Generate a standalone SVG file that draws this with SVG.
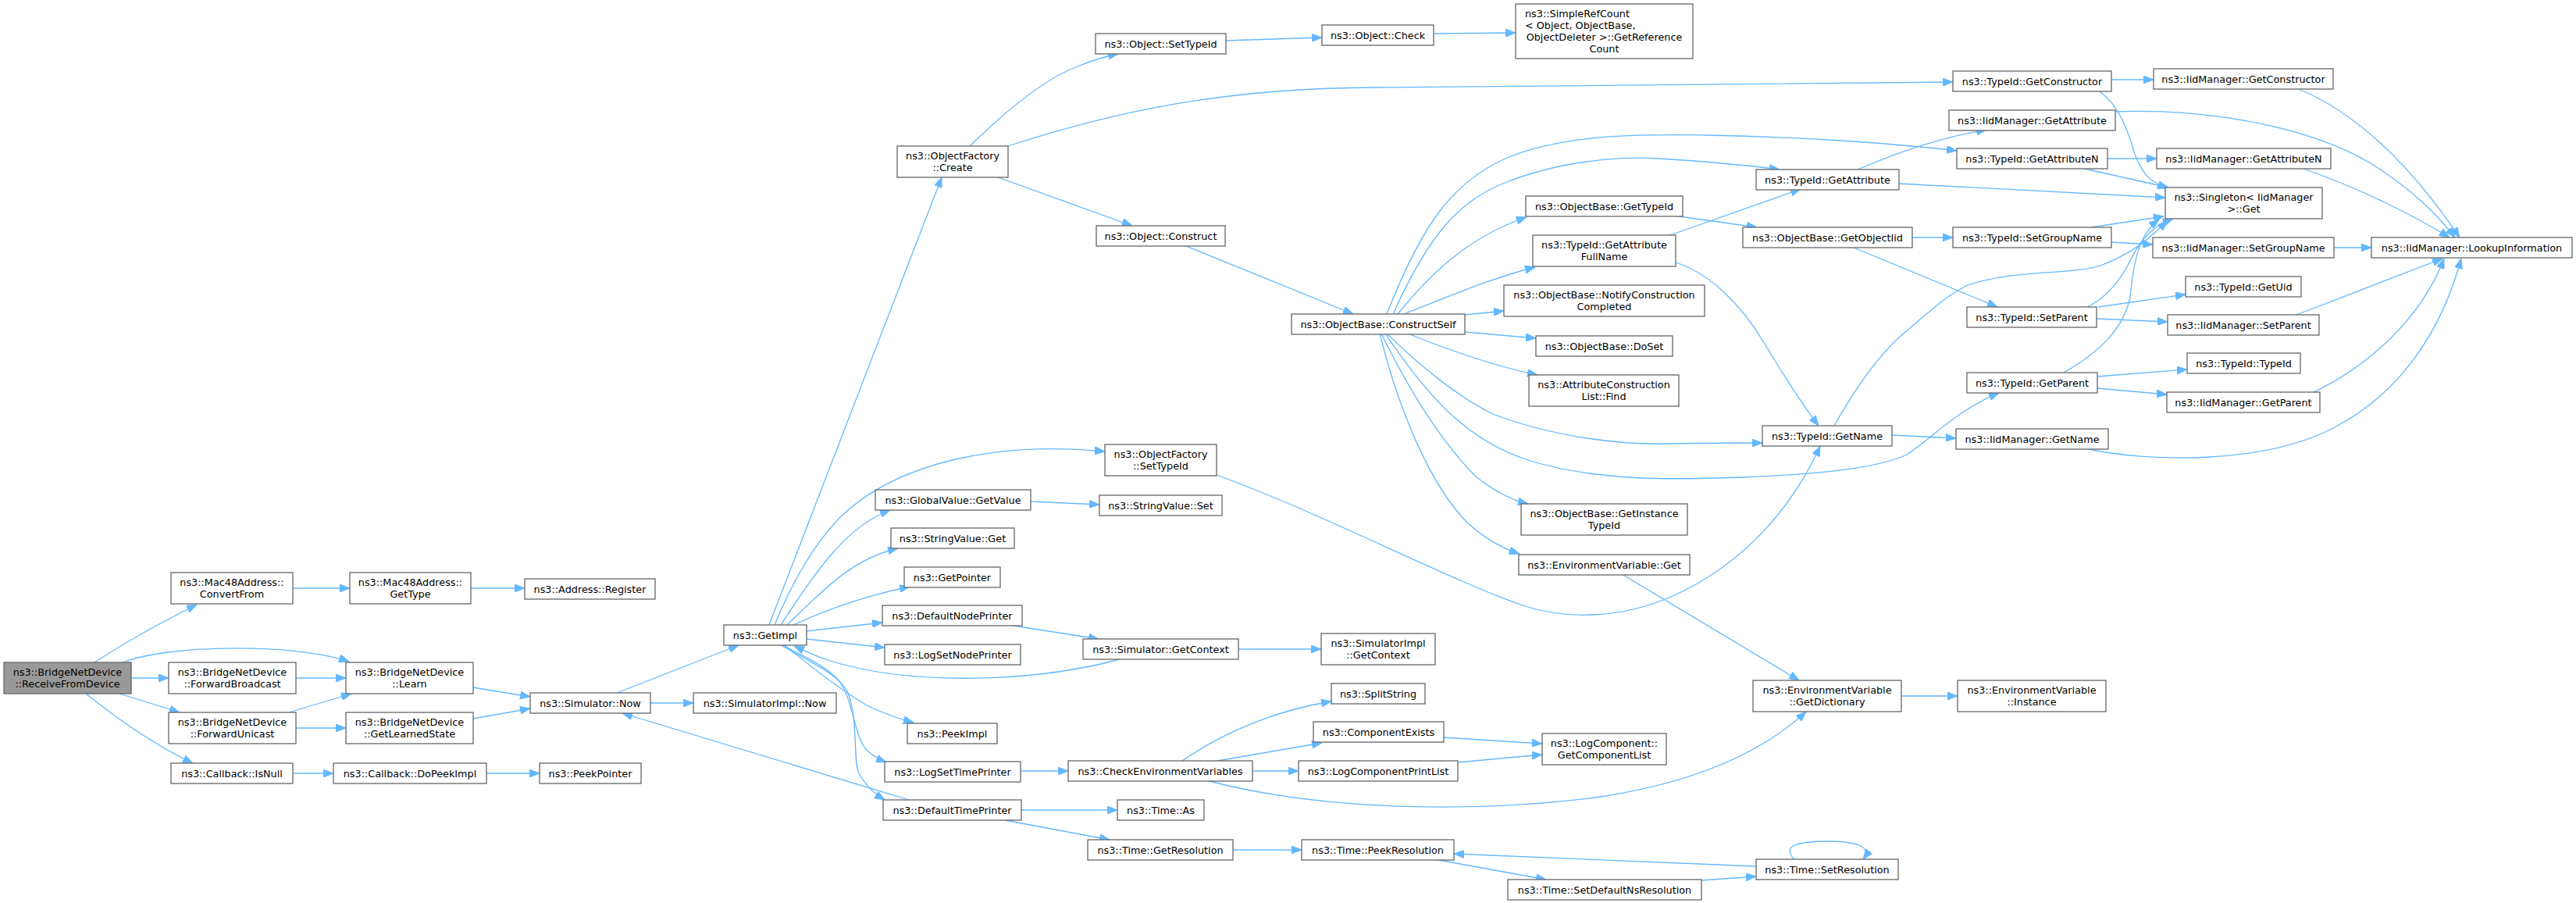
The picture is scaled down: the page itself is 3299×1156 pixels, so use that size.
<svg xmlns="http://www.w3.org/2000/svg" width="3299" height="1156" viewBox="0 0 3299 1156">
<defs>
<marker id="a" markerWidth="13" markerHeight="10" refX="13" refY="5" orient="auto" markerUnits="userSpaceOnUse"><path d="M0,0 L13,5 L0,10 z" fill="#63b8ff" stroke="#63b8ff" stroke-width="1"/></marker>
<style>
.n rect{fill:#fff;stroke:#666;stroke-width:1.3}
.root rect{fill:#999}
text{font-family:'DejaVu Sans','Liberation Sans',sans-serif;font-size:12.8px;text-anchor:middle;fill:#000}
.l{text-anchor:start}
.e path{fill:none;stroke:#63b8ff;stroke-width:1.3;marker-end:url(#a)}
</style>
</defs>
<rect width="3299" height="1156" fill="#fff"/>
<g id="edges" class="e">
<path d="M121,848 C150,829 200,800 252,774"/>
<path d="M157,848 C220,824 380,824 447,847"/>
<path d="M168,868 L216,868"/>
<path d="M153,888 L230,912"/>
<path d="M110,888 C150,920 200,955 247,977"/>
<path d="M375,753 L448,753"/>
<path d="M603,753 L672,753"/>
<path d="M379,868 L443,868"/>
<path d="M370,912 L450,888"/>
<path d="M379,932 L443,932"/>
<path d="M375,990 L427,990"/>
<path d="M623,990 L691,990"/>
<path d="M606,880 L679,892"/>
<path d="M606,920 L679,907"/>
<path d="M833,900 L888,900"/>
<path d="M790,887 L946,826"/>
<path d="M1164,1024 L797,913"/>
<path d="M985,800 L1206,227"/>
<path d="M992,800 C1015,745 1040,700 1075,663 C1150,590 1280,565 1415,578"/>
<path d="M1000,800 C1040,740 1080,675 1140,653"/>
<path d="M1320,642 L1408,646"/>
<path d="M1008,800 C1050,760 1090,715 1150,702"/>
<path d="M1016,800 C1060,780 1110,762 1165,751"/>
<path d="M1033,808 L1130,797"/>
<path d="M1033,818 L1133,829"/>
<path d="M1434,844 C1330,872 1170,880 1060,845 C1045,840 1030,833 1017,827"/>
<path d="M1298,801 L1407,818"/>
<path d="M1586,831 L1692,831"/>
<path d="M1005,826 C1040,855 1080,885 1110,903 C1135,915 1150,920 1170,925"/>
<path d="M1002,826 C1040,845 1070,860 1080,880 C1095,910 1095,945 1110,960 C1118,968 1125,972 1135,976"/>
<path d="M1000,826 C1040,848 1075,865 1085,885 C1100,920 1092,975 1100,990 C1108,1005 1118,1015 1133,1024"/>
<path d="M1307,987 L1368,987"/>
<path d="M1308,1037 L1431,1037"/>
<path d="M1287,1050 L1421,1075"/>
<path d="M1579,1088 L1667,1088"/>
<path d="M1514,974 C1570,935 1640,908 1705,898"/>
<path d="M1559,974 L1693,951"/>
<path d="M1604,987 L1663,987"/>
<path d="M1545,999 C1700,1040 1900,1040 2050,1020 C2180,1000 2260,960 2313,911"/>
<path d="M1849,944 L1975,952"/>
<path d="M1867,976 L1975,966"/>
<path d="M1837,1100 L1980,1126"/>
<path d="M2179,1127 L2249,1122"/>
<path d="M2249,1109 L1862,1093"/>
<path d="M2298,1100 C2280,1082 2305,1077 2340,1077 C2378,1077 2398,1084 2386,1100"/>
<path d="M2077,735 L2304,871"/>
<path d="M2435,891 L2507,891"/>
<path d="M1558,608 C1700,660 1850,740 1950,775 C2010,795 2080,790 2140,764 C2240,720 2300,640 2331,571"/>
<path d="M1242,187 C1290,140 1340,100 1380,85 C1400,77 1415,72 1432,69"/>
<path d="M1291,187 C1420,145 1560,113 1760,112 C2000,110 2300,107 2501,105"/>
<path d="M1278,227 L1450,289"/>
<path d="M1570,52 L1693,48"/>
<path d="M1836,43 L1941,42"/>
<path d="M1519,315 L1733,402"/>
<path d="M1776,402 C1820,290 1860,230 1935,200 C2010,170 2120,172 2184,173 C2300,175 2420,183 2506,193"/>
<path d="M1784,402 C1830,300 1870,255 1930,233 C2000,205 2080,200 2125,203 C2190,207 2240,212 2279,217"/>
<path d="M1790,402 C1840,340 1890,300 1955,278"/>
<path d="M1798,402 C1860,378 1910,356 1966,342"/>
<path d="M1876,403 L1926,398"/>
<path d="M1876,425 L1967,433"/>
<path d="M1803,427 C1860,450 1920,470 1969,480"/>
<path d="M1776,427 C1820,470 1870,510 1912,530 C1990,560 2080,570 2139,568 C2190,567 2230,567 2257,567"/>
<path d="M1774,427 C1830,510 1880,565 1960,590 C2050,617 2150,614 2230,611 C2330,607 2400,600 2440,583 C2470,565 2505,525 2560,503"/>
<path d="M1769,427 C1800,490 1840,560 1890,610 C1915,630 1935,640 1957,645"/>
<path d="M1767,427 C1790,520 1830,620 1880,670 C1905,692 1925,702 1946,709"/>
<path d="M2139,301 L2306,242"/>
<path d="M2146,336 C2190,350 2230,390 2260,440 C2290,490 2310,520 2329,545"/>
<path d="M2143,276 L2250,291"/>
<path d="M2379,217 C2430,195 2490,175 2544,166"/>
<path d="M2432,235 L2773,253"/>
<path d="M2449,304 L2501,304"/>
<path d="M2374,317 L2558,393"/>
<path d="M2349,545 C2380,490 2410,450 2440,425 C2470,400 2490,380 2520,365 C2580,345 2650,352 2690,340 C2730,325 2755,305 2775,282"/>
<path d="M2423,557 L2505,561"/>
<path d="M2670,574 C2750,592 2900,595 2990,547 C3070,505 3125,430 3152,331"/>
<path d="M2704,102 L2758,102"/>
<path d="M2689,117 C2720,140 2728,180 2735,200 C2745,225 2755,233 2776,241"/>
<path d="M2944,114 C3030,150 3100,230 3150,304"/>
<path d="M2709,143 C2850,138 2980,170 3050,218 C3100,252 3125,280 3144,304"/>
<path d="M2699,203 L2762,203"/>
<path d="M2665,215 L2777,240"/>
<path d="M2947,215 C3020,240 3090,275 3137,304"/>
<path d="M2678,291 L2771,277"/>
<path d="M2704,310 L2757,313"/>
<path d="M2989,317 L3037,317"/>
<path d="M2687,393 L2799,377"/>
<path d="M2685,408 L2776,412"/>
<path d="M2673,393 C2700,380 2717,357 2730,330 C2745,300 2762,288 2783,280"/>
<path d="M2941,403 C3000,380 3080,350 3128,331"/>
<path d="M2686,482 L2801,473"/>
<path d="M2686,497 L2775,505"/>
<path d="M2643,477 C2690,450 2720,420 2728,380 C2733,330 2740,300 2765,281"/>
<path d="M2963,502 C3030,470 3100,410 3130,331"/>
</g>
<g id="R" class="n root"><rect x="5" y="848" width="163" height="40"/><text x="86.5" y="865">ns3::BridgeNetDevice</text><text x="86.5" y="880">::ReceiveFromDevice</text></g>
<g id="CF" class="n"><rect x="219" y="733" width="156" height="40"/><text x="297" y="750">ns3::Mac48Address::</text><text x="297" y="765">ConvertFrom</text></g>
<g id="FB" class="n"><rect x="216" y="848" width="163" height="40"/><text x="297.5" y="865">ns3::BridgeNetDevice</text><text x="297.5" y="880">::ForwardBroadcast</text></g>
<g id="FU" class="n"><rect x="216" y="912" width="163" height="40"/><text x="297.5" y="929">ns3::BridgeNetDevice</text><text x="297.5" y="944">::ForwardUnicast</text></g>
<g id="CI" class="n"><rect x="219" y="977" width="156" height="26"/><text x="297" y="994.5">ns3::Callback::IsNull</text></g>
<g id="GT" class="n"><rect x="448" y="733" width="155" height="40"/><text x="525.5" y="750">ns3::Mac48Address::</text><text x="525.5" y="765">GetType</text></g>
<g id="AR" class="n"><rect x="672" y="741" width="167" height="26"/><text x="755.5" y="758.5">ns3::Address::Register</text></g>
<g id="L" class="n"><rect x="443" y="848" width="163" height="40"/><text x="524.5" y="865">ns3::BridgeNetDevice</text><text x="524.5" y="880">::Learn</text></g>
<g id="GLS" class="n"><rect x="443" y="912" width="163" height="40"/><text x="524.5" y="929">ns3::BridgeNetDevice</text><text x="524.5" y="944">::GetLearnedState</text></g>
<g id="DPI" class="n"><rect x="427" y="977" width="196" height="26"/><text x="525" y="994.5">ns3::Callback::DoPeekImpl</text></g>
<g id="PP" class="n"><rect x="691" y="977" width="130" height="26"/><text x="756" y="994.5">ns3::PeekPointer</text></g>
<g id="SN" class="n"><rect x="679" y="887" width="154" height="26"/><text x="756" y="904.5">ns3::Simulator::Now</text></g>
<g id="SIN" class="n"><rect x="888" y="887" width="183" height="26"/><text x="979.5" y="904.5">ns3::SimulatorImpl::Now</text></g>
<g id="GI" class="n"><rect x="927" y="800" width="106" height="26"/><text x="980" y="817.5">ns3::GetImpl</text></g>
<g id="OFC" class="n"><rect x="1149" y="187" width="142" height="40"/><text x="1220" y="204">ns3::ObjectFactory</text><text x="1220" y="219">::Create</text></g>
<g id="OST" class="n"><rect x="1403" y="43" width="167" height="26"/><text x="1486.5" y="60.5">ns3::Object::SetTypeId</text></g>
<g id="OCh" class="n"><rect x="1693" y="32" width="143" height="26"/><text x="1764.5" y="49.5">ns3::Object::Check</text></g>
<g id="SRC" class="n"><rect x="1941" y="5" width="227" height="70"/><text class="l" x="1953" y="22">ns3::SimpleRefCount</text><text class="l" x="1953" y="37">&lt; Object, ObjectBase,</text><text x="2054.5" y="52">ObjectDeleter &gt;::GetReference</text><text x="2054.5" y="67">Count</text></g>
<g id="OC" class="n"><rect x="1404" y="289" width="165" height="26"/><text x="1486.5" y="306.5">ns3::Object::Construct</text></g>
<g id="OFS" class="n"><rect x="1415" y="569" width="143" height="40"/><text x="1486.5" y="586">ns3::ObjectFactory</text><text x="1486.5" y="601">::SetTypeId</text></g>
<g id="GV" class="n"><rect x="1121" y="627" width="199" height="26"/><text x="1220.5" y="644.5">ns3::GlobalValue::GetValue</text></g>
<g id="SVS" class="n"><rect x="1408" y="634" width="157" height="26"/><text x="1486.5" y="651.5">ns3::StringValue::Set</text></g>
<g id="SVG" class="n"><rect x="1141" y="676" width="158" height="26"/><text x="1220" y="693.5">ns3::StringValue::Get</text></g>
<g id="GP" class="n"><rect x="1158" y="726" width="123" height="26"/><text x="1219.5" y="743.5">ns3::GetPointer</text></g>
<g id="DNP" class="n"><rect x="1130" y="775" width="179" height="26"/><text x="1219.5" y="792.5">ns3::DefaultNodePrinter</text></g>
<g id="LSNP" class="n"><rect x="1133" y="825" width="174" height="26"/><text x="1220" y="842.5">ns3::LogSetNodePrinter</text></g>
<g id="SGC" class="n"><rect x="1387" y="818" width="199" height="26"/><text x="1486.5" y="835.5">ns3::Simulator::GetContext</text></g>
<g id="SIGC" class="n"><rect x="1692" y="811" width="146" height="40"/><text x="1765" y="828">ns3::SimulatorImpl</text><text x="1765" y="843">::GetContext</text></g>
<g id="PI" class="n"><rect x="1162" y="926" width="115" height="26"/><text x="1219.5" y="943.5">ns3::PeekImpl</text></g>
<g id="LSTP" class="n"><rect x="1133" y="975" width="174" height="26"/><text x="1220" y="992.5">ns3::LogSetTimePrinter</text></g>
<g id="CEV" class="n"><rect x="1368" y="974" width="236" height="26"/><text x="1486" y="991.5">ns3::CheckEnvironmentVariables</text></g>
<g id="DTP" class="n"><rect x="1131" y="1024" width="177" height="26"/><text x="1219.5" y="1041.5">ns3::DefaultTimePrinter</text></g>
<g id="TA" class="n"><rect x="1431" y="1024" width="111" height="26"/><text x="1486.5" y="1041.5">ns3::Time::As</text></g>
<g id="TGR" class="n"><rect x="1393" y="1075" width="186" height="26"/><text x="1486" y="1092.5">ns3::Time::GetResolution</text></g>
<g id="SS" class="n"><rect x="1705" y="875" width="120" height="26"/><text x="1765" y="892.5">ns3::SplitString</text></g>
<g id="CE" class="n"><rect x="1682" y="924" width="167" height="26"/><text x="1765.5" y="941.5">ns3::ComponentExists</text></g>
<g id="LCPL" class="n"><rect x="1663" y="974" width="204" height="26"/><text x="1765" y="991.5">ns3::LogComponentPrintList</text></g>
<g id="TPR" class="n"><rect x="1667" y="1075" width="195" height="26"/><text x="1764.5" y="1092.5">ns3::Time::PeekResolution</text></g>
<g id="LCGCL" class="n"><rect x="1975" y="939" width="159" height="40"/><text x="2054.5" y="956">ns3::LogComponent::</text><text x="2054.5" y="971">GetComponentList</text></g>
<g id="EVGD" class="n"><rect x="2245" y="871" width="190" height="40"/><text x="2340" y="888">ns3::EnvironmentVariable</text><text x="2340" y="903">::GetDictionary</text></g>
<g id="EVI" class="n"><rect x="2507" y="871" width="190" height="40"/><text x="2602" y="888">ns3::EnvironmentVariable</text><text x="2602" y="903">::Instance</text></g>
<g id="TSDNR" class="n"><rect x="1931" y="1126" width="248" height="26"/><text x="2055" y="1143.5">ns3::Time::SetDefaultNsResolution</text></g>
<g id="TSR" class="n"><rect x="2249" y="1100" width="182" height="26"/><text x="2340" y="1117.5">ns3::Time::SetResolution</text></g>
<g id="CS" class="n"><rect x="1654" y="402" width="222" height="26"/><text x="1765" y="419.5">ns3::ObjectBase::ConstructSelf</text></g>
<g id="NCC" class="n"><rect x="1926" y="365" width="257" height="40"/><text x="2054.5" y="382">ns3::ObjectBase::NotifyConstruction</text><text x="2054.5" y="397">Completed</text></g>
<g id="DS" class="n"><rect x="1967" y="430" width="175" height="26"/><text x="2054.5" y="447.5">ns3::ObjectBase::DoSet</text></g>
<g id="ACLF" class="n"><rect x="1958" y="480" width="192" height="40"/><text x="2054" y="497">ns3::AttributeConstruction</text><text x="2054" y="512">List::Find</text></g>
<g id="GITI" class="n"><rect x="1948" y="645" width="213" height="40"/><text x="2054.5" y="662">ns3::ObjectBase::GetInstance</text><text x="2054.5" y="677">TypeId</text></g>
<g id="EVG" class="n"><rect x="1945" y="710" width="219" height="26"/><text x="2054.5" y="727.5">ns3::EnvironmentVariable::Get</text></g>
<g id="TGN" class="n"><rect x="2257" y="545" width="166" height="26"/><text x="2340" y="562.5">ns3::TypeId::GetName</text></g>
<g id="TGA" class="n"><rect x="2249" y="217" width="183" height="26"/><text x="2340.5" y="234.5">ns3::TypeId::GetAttribute</text></g>
<g id="OBGT" class="n"><rect x="1954" y="251" width="201" height="26"/><text x="2054.5" y="268.5">ns3::ObjectBase::GetTypeId</text></g>
<g id="OBGOI" class="n"><rect x="2232" y="291" width="217" height="26"/><text x="2340.5" y="308.5">ns3::ObjectBase::GetObjectIid</text></g>
<g id="TGAFN" class="n"><rect x="1963" y="301" width="183" height="40"/><text x="2054.5" y="318">ns3::TypeId::GetAttribute</text><text x="2054.5" y="333">FullName</text></g>
<g id="TGC" class="n"><rect x="2501" y="91" width="203" height="26"/><text x="2602.5" y="108.5">ns3::TypeId::GetConstructor</text></g>
<g id="IGC" class="n"><rect x="2758" y="88" width="230" height="26"/><text x="2873" y="105.5">ns3::IidManager::GetConstructor</text></g>
<g id="IGA" class="n"><rect x="2496" y="141" width="213" height="26"/><text x="2602.5" y="158.5">ns3::IidManager::GetAttribute</text></g>
<g id="TGAN" class="n"><rect x="2506" y="190" width="193" height="26"/><text x="2602.5" y="207.5">ns3::TypeId::GetAttributeN</text></g>
<g id="IGAN" class="n"><rect x="2762" y="190" width="223" height="26"/><text x="2873.5" y="207.5">ns3::IidManager::GetAttributeN</text></g>
<g id="SG" class="n"><rect x="2773" y="240" width="201" height="40"/><text x="2873.5" y="257">ns3::Singleton&lt; IidManager</text><text x="2873.5" y="272">&gt;::Get</text></g>
<g id="TSGN" class="n"><rect x="2501" y="291" width="203" height="26"/><text x="2602.5" y="308.5">ns3::TypeId::SetGroupName</text></g>
<g id="ISGN" class="n"><rect x="2757" y="304" width="232" height="26"/><text x="2873" y="321.5">ns3::IidManager::SetGroupName</text></g>
<g id="ILI" class="n"><rect x="3037" y="304" width="257" height="26"/><text x="3165.5" y="321.5">ns3::IidManager::LookupInformation</text></g>
<g id="TGU" class="n"><rect x="2799" y="354" width="148" height="26"/><text x="2873" y="371.5">ns3::TypeId::GetUid</text></g>
<g id="TSP" class="n"><rect x="2519" y="393" width="166" height="26"/><text x="2602" y="410.5">ns3::TypeId::SetParent</text></g>
<g id="ISP" class="n"><rect x="2776" y="403" width="194" height="26"/><text x="2873" y="420.5">ns3::IidManager::SetParent</text></g>
<g id="TTI" class="n"><rect x="2801" y="452" width="145" height="26"/><text x="2873.5" y="469.5">ns3::TypeId::TypeId</text></g>
<g id="TGP" class="n"><rect x="2519" y="477" width="167" height="26"/><text x="2602.5" y="494.5">ns3::TypeId::GetParent</text></g>
<g id="IGP" class="n"><rect x="2775" y="502" width="196" height="26"/><text x="2873" y="519.5">ns3::IidManager::GetParent</text></g>
<g id="IGN" class="n"><rect x="2505" y="549" width="195" height="26"/><text x="2602.5" y="566.5">ns3::IidManager::GetName</text></g>
</svg>
